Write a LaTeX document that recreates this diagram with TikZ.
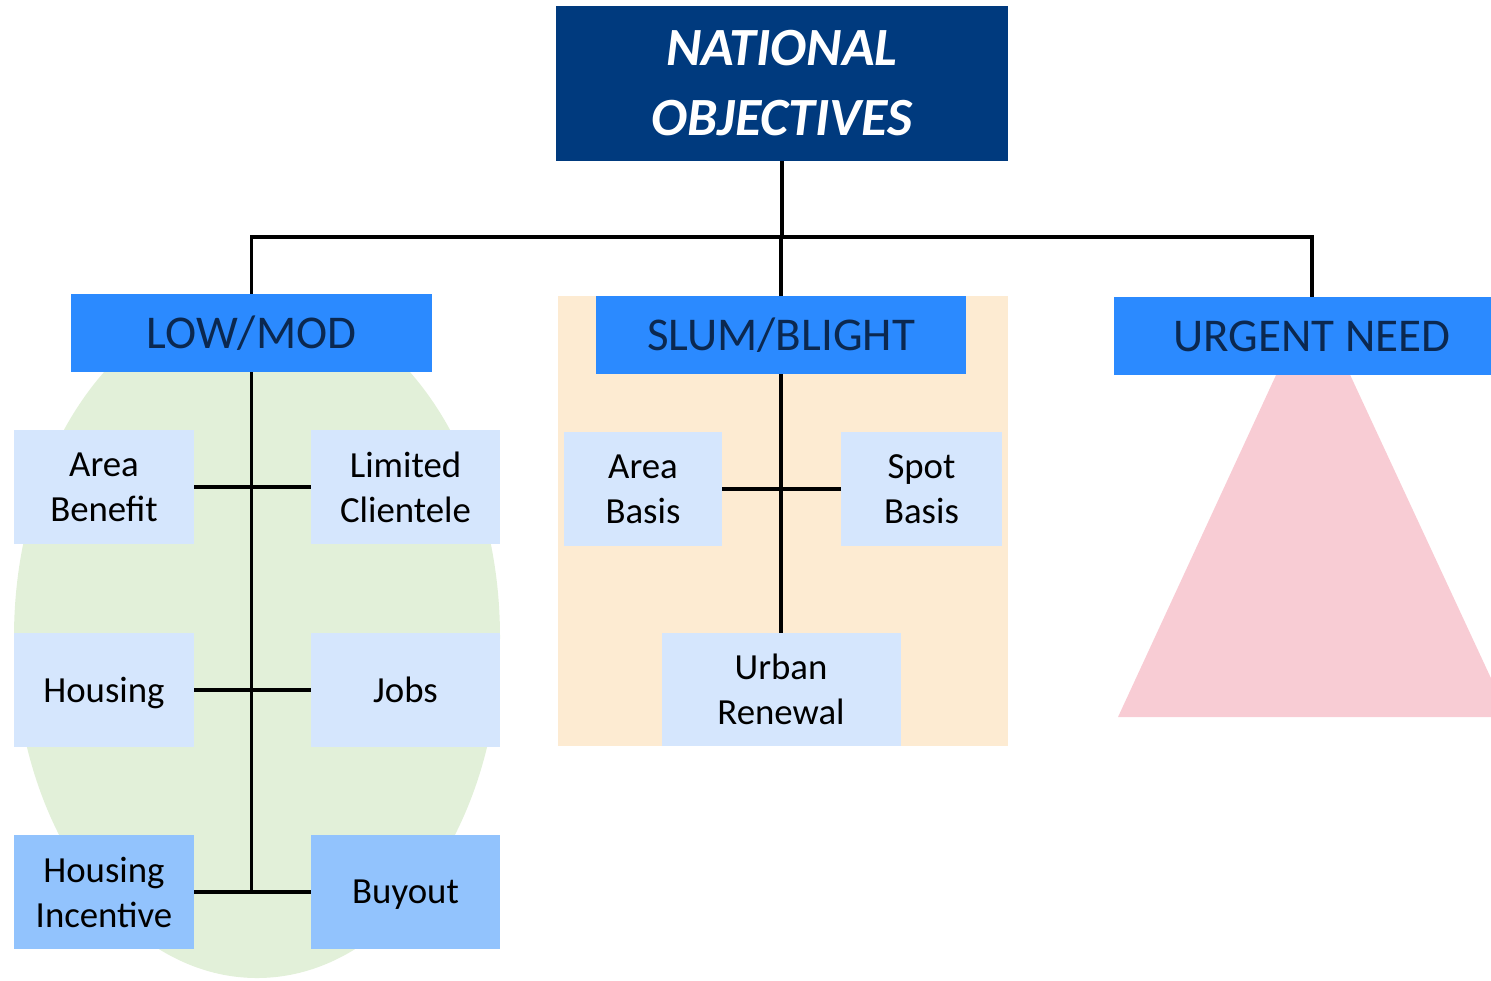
\documentclass[tikz,border=0pt]{standalone}
\usepackage{fontspec}
\setmainfont{Carlito}
\definecolor{azulescuro}{HTML}{003A7E}
\definecolor{azulgrupo}{HTML}{2B8AFF}
\definecolor{azultexto}{HTML}{0B2850}
\definecolor{azulclaro}{HTML}{D5E6FD}
\definecolor{azulmedio}{HTML}{92C3FD}
\definecolor{verde}{HTML}{E2F0D9}
\definecolor{laranja}{HTML}{FDEBD2}
\definecolor{rosa}{HTML}{F8CCD4}
\begin{document}
\begin{tikzpicture}[
            x=0.5pt, y=-0.5pt,
            titulo/.style={fill=azulescuro, text=white, font=\bfseries\itshape\fontsize{26.9}{35}\selectfont, align=center, minimum width=226pt, minimum height=77.5pt, inner sep=0pt},
            grupo/.style={fill=azulgrupo, text=azultexto, font=\fontsize{23.5}{28}\selectfont, minimum height=39pt, inner sep=0pt},
            folha/.style={fill=azulclaro, font=\fontsize{18.4}{22.5}\selectfont, align=center, minimum height=57pt, inner sep=0pt},
            folhaforte/.style={folha, fill=azulmedio},
            ligacao/.style={line width=1.8pt},
        ]
        \useasboundingbox (0, 0) rectangle (1491, 980);
        \clip (0, 0) rectangle (1491, 980);

        \fill[verde] (257, 637) ellipse (121.5pt and 170.5pt);
        \fill[laranja] (558, 296) rectangle (1008, 746);
        \fill[rosa] (1313, 295) -- (1118, 717) -- (1509, 717) -- cycle;

        \node[titulo] (nacional) at (782, 83.5) {NATIONAL\\OBJECTIVES};
        \node[grupo, minimum width=180.5pt] (lowmod) at (251.5, 333) {LOW/MOD};
        \node[grupo, minimum width=185pt] (slum) at (781, 335) {SLUM/BLIGHT};
        \node[grupo, minimum width=198pt] (urgente) at (1312, 336) {URGENT NEED};
        \coordinate (barra) at (782, 237);

        \node[folha, minimum width=90pt] (areaben) at (104, 487) {Area\\Benefit};
        \node[folha, minimum width=94.5pt] (limitada) at (405.5, 487) {Limited\\Clientele};
        \node[folha, minimum width=90pt, text depth=0pt] (moradia) at (104, 690) {Housing};
        \node[folha, minimum width=94.5pt] (empregos) at (405.5, 690) {Jobs};
        \node[folhaforte, minimum width=90pt] (incentivo) at (104, 892) {Housing\\Incentive};
        \node[folhaforte, minimum width=94.5pt, text depth=0pt] (compra) at (405.5, 892) {Buyout};

        \node[folha, minimum width=79pt] (areabase) at (643, 489) {Area\\Basis};
        \node[folha, minimum width=80.5pt] (pontual) at (921.5, 489) {Spot\\Basis};
        \node[folha, minimum width=119.5pt, minimum height=56.5pt] (urbana) at (781, 689.5) {Urban\\Renewal};

        \draw[ligacao] (nacional.south) -- (barra);
        \draw[ligacao] (lowmod.north) |- (barra) -| (urgente.north);
        \draw[ligacao] (slum.north) -- (slum.north |- barra);

        \draw[ligacao] (lowmod.south) -- (lowmod.south |- compra.west);
        \draw[ligacao] (areaben.east) -- (limitada.west);
        \draw[ligacao] (moradia.east) -- (empregos.west);
        \draw[ligacao] (incentivo.east) -- (compra.west);

        \draw[ligacao] (slum.south) -- (urbana.north);
        \draw[ligacao] (areabase.east) -- (pontual.west);

    \end{tikzpicture}
\end{document}
